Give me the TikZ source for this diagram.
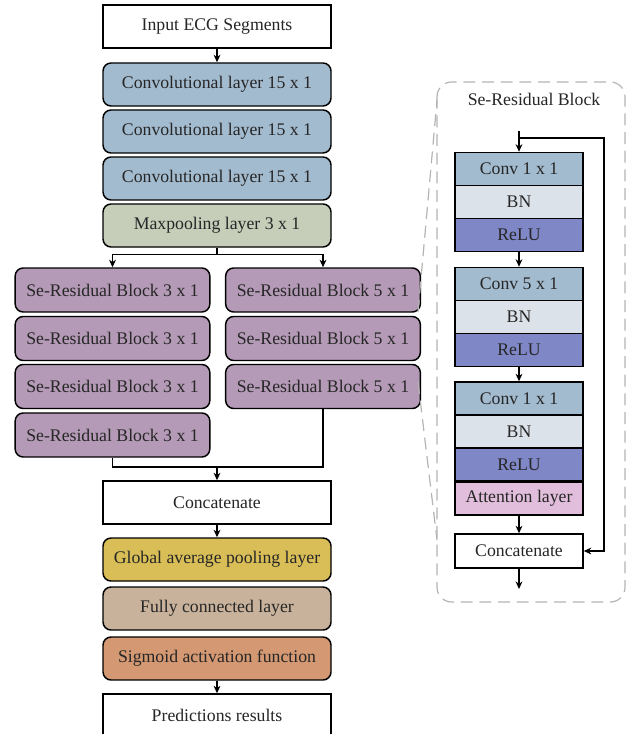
\documentclass[tikz,border=0pt]{standalone}
\usepackage{fontspec}
\setmainfont{Liberation Serif}
\usepackage{tikz}
\usetikzlibrary{arrows.meta,positioning,calc}
\definecolor{cConv}{HTML}{A3BBCF}
\definecolor{cPool}{HTML}{C6CEBA}
\definecolor{cRes}{HTML}{B49AB6}
\definecolor{cBN}{HTML}{DCE2EA}
\definecolor{cRelu}{HTML}{7F87C7}
\definecolor{cAtt}{HTML}{E1BEDB}
\definecolor{cGap}{HTML}{D9BE57}
\definecolor{cFc}{HTML}{C8B29B}
\definecolor{cSig}{HTML}{D49872}
\definecolor{cFrame}{HTML}{B4B4B4}

\begin{document}
\begin{tikzpicture}[x=0.75pt,y=-0.75pt,
  every node/.style={font=\fontsize{13.3}{16}\selectfont,text=black!85},
  >={Stealth[length=2mm,width=1.8mm]},
  plainbox/.style={draw=black,line width=1.1pt,fill=white,minimum width=171pt,minimum height=32.25pt,inner sep=0pt},
  layer/.style={plainbox,rounded corners=6pt},
  resbox/.style={layer,fill=cRes,minimum width=146pt,minimum height=33pt},
  cell/.style={draw=black,line width=1.1pt,minimum width=96pt,minimum height=24.75pt,inner sep=0pt},
  link/.style={line width=0.8pt},
  zoomline/.style={cFrame,line width=0.9pt,dash pattern=on 9pt off 5pt}]
  \useasboundingbox (0,0) rectangle (631,734);
  % main path
  \node[plainbox] (input) at (217,26.5) {Input ECG Segments};
  \foreach \k/\y in {1/84.5,2/131.5,3/178.5}{
    \node[layer,fill=cConv] (conv\k) at (217,\y) {Convolutional layer 15 x 1};
  }
  \node[layer,fill=cPool] (pool) at (217,225.5) {Maxpooling layer 3 x 1};
  \foreach \k/\y in {1/290,2/338.5,3/386.5,4/435}{
    \node[resbox] (left\k) at (112.5,\y) {Se-Residual Block 3 x 1};
  }
  \foreach \k/\y in {1/290,2/338.5,3/386.5}{
    \node[resbox] (right\k) at (323,\y) {Se-Residual Block 5 x 1};
  }
  \node[plainbox] (concat) at (217,502.5) {Concatenate};
  \node[layer,fill=cGap] (gap) at (217,559.5) {Global average pooling layer};
  \node[layer,fill=cFc] (fc) at (217,608.5) {Fully connected layer};
  \node[layer,fill=cSig] (sig) at (217,658.5) {Sigmoid activation function};
  \node[plainbox] (pred) at (217,715.5) {Predictions results};

  \draw[link,->] (input) -- (conv1);
  \draw[link] (pool.south) -- ++(0,7) coordinate (split);
  \draw[link,->] (split) -| (left1.north);
  \draw[link,->] (split) -| (right1.north);
  \coordinate (join) at (217,467);
  \draw[link] (left4.south) |- (join) -| (right3.south);
  \draw[link,->] (join) -- (concat);
  \draw[link,->] (concat) -- (gap);
  \draw[link,->] (sig) -- (pred);

  % Se-Residual block detail
  \draw[cFrame,line width=0.9pt,dash pattern=on 9pt off 5pt,rounded corners=11pt] (437,82) rectangle (625,602);
  \node (title) at (534,99) {Se-Residual Block};
  \node[cell,fill=cConv] (convA) at (519,169) {Conv 1 x 1};
  \node[cell,fill=cBN] (bnA) at (519,202) {BN};
  \node[cell,fill=cRelu] (reluA) at (519,235) {ReLU};
  \node[cell,fill=cConv] (convB) at (519,284) {Conv 5 x 1};
  \node[cell,fill=cBN] (bnB) at (519,317) {BN};
  \node[cell,fill=cRelu] (reluB) at (519,350) {ReLU};
  \node[cell,fill=cConv] (convC) at (519,398.5) {Conv 1 x 1};
  \node[cell,fill=cBN] (bnC) at (519,431.5) {BN};
  \node[cell,fill=cRelu] (reluC) at (519,464.5) {ReLU};
  \node[cell,fill=cAtt] (att) at (519,498.5) {Attention layer};
  \node[cell,fill=white,minimum height=25.5pt] (blockcat) at (519,551) {Concatenate};

  \coordinate (blockin) at (519,131);
  \coordinate (skip) at (519,138);
  \coordinate (blockout) at (519,589);
  \draw[link,->] (blockin) -- (convA);
  \draw[link,->] (skip) -- (604,138) |- (blockcat.east);
  \draw[link,->] (reluA) -- (convB);
  \draw[link,->] (reluB) -- (convC);
  \draw[link,->] (att) -- (blockcat);
  \draw[link,->] (blockcat) -- (blockout);

  % zoom lines
  \coordinate (zoomA) at (418,312);
  \coordinate (zoomB) at (418,382);
  \draw[zoomline] (zoomA) -- (437,100);
  \draw[zoomline] (zoomB) -- (437,540);
\end{tikzpicture}
\end{document}
